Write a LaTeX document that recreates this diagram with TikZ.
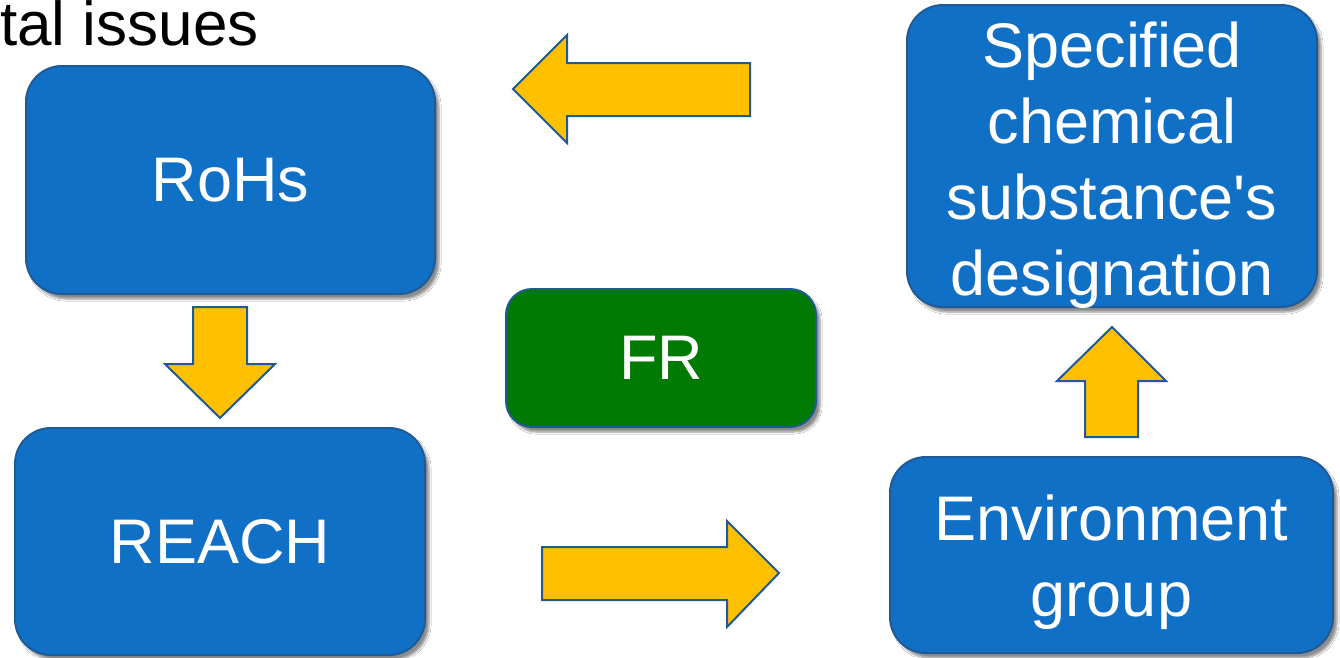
\documentclass[tikz,border=0pt]{standalone}
\usepackage{fontspec}
\setmainfont{Liberation Sans}
\usetikzlibrary{shadows.blur}
\definecolor{boxblue}{HTML}{1070C6}
\definecolor{edgeblue}{HTML}{1F5A96}
\definecolor{frgreen}{HTML}{007A00}
\definecolor{arrowyellow}{HTML}{FFC000}
\tikzset{
  stepbox/.style={draw=edgeblue, line width=2pt, fill=boxblue, rounded corners=36pt,
    text=white, font=\fontsize{63}{76}\selectfont, align=center, inner sep=0pt,
    blur shadow={shadow xshift=4pt, shadow yshift=-5pt, shadow blur steps=6, shadow opacity=45}},
  greenbox/.style={stepbox, fill=frgreen, rounded corners=26pt},
  boxtext/.style={text=white, font=\fontsize{63}{76}\selectfont, align=center, inner sep=0pt, anchor=base},
  blockarrow/.style={draw=edgeblue, line width=2pt, fill=arrowyellow, line join=miter}
}
\begin{document}
\begin{tikzpicture}[x=1pt,y=-1pt]
\useasboundingbox (0,0) rectangle (1340,657);
\clip (0,0) rectangle (1340,657);
\fill[white] (0,0) rectangle (1340,657);
\node[anchor=base west, font=\fontsize{62}{74}\selectfont, inner sep=0pt] (title) at (0,45) {tal issues};
\node[stepbox, minimum width=409pt, minimum height=228pt] (rohs) at (230.5,180) {RoHs};
\node[stepbox, minimum width=410pt, minimum height=227pt] (reach) at (220,541.5) {REACH};
\node[greenbox, minimum width=310pt, minimum height=138pt] (fr) at (661,358) {FR};
\node[stepbox, minimum width=410pt, minimum height=302pt] (spec) at (1112,156) {};
\node[boxtext] (spectext) at (1112,295) {Specified\\chemical\\substance\textquotesingle s\\designation};
\node[stepbox, minimum width=443pt, minimum height=196pt] (env) at (1111.5,555) {};
\node[boxtext] (envtext) at (1111.5,616) {Environment\\group};
% block arrows
\draw[blockarrow] (513,89) -- (567,35) -- (567,63) -- (750,63) -- (750,116) -- (567,116) -- (567,143) -- cycle;
\draw[blockarrow] (220,418) -- (165,364) -- (193,364) -- (193,307) -- (247,307) -- (247,364) -- (275,364) -- cycle;
\draw[blockarrow] (779,573) -- (727,521) -- (727,547) -- (542,547) -- (542,600) -- (727,600) -- (727,627) -- cycle;
\draw[blockarrow] (1112,327) -- (1057,381) -- (1085,381) -- (1085,437) -- (1138,437) -- (1138,381) -- (1166,381) -- cycle;
\end{tikzpicture}
\end{document}
